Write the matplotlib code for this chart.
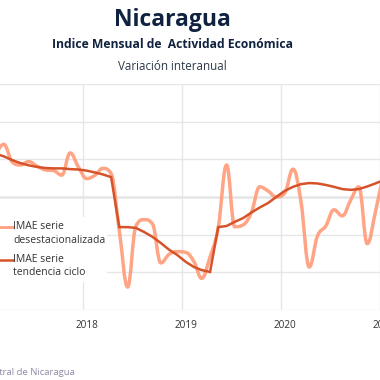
import datetime as dt
import numpy as np
import matplotlib
matplotlib.use("Agg")
import matplotlib.pyplot as plt
import matplotlib.dates as mdates
from matplotlib.path import Path
from matplotlib.patches import PathPatch, Rectangle
from matplotlib.lines import Line2D

# ---------------- data ----------------
months = [dt.date(2017 + (i // 12), i % 12 + 1, 15) for i in range(49)]  # Jan 2017 .. Jan 2021

desestacionalizada = [
    5.5, 6.0, 7.0, 4.65, 4.25, 4.7, 4.1, 3.6, 3.5, 2.9, 5.85, 4.0,          # 2017
    2.45, 2.9, 3.8, 3.1, -4.4, -11.95, -3.9, -3.0, -3.6, -8.75, -7.6, -7.25, # 2018
    -7.35, -8.6, -10.8, -7.95, -4.1, 4.25, -3.95, -3.7, -2.0, 1.35, 0.8, 0.0, # 2019
    0.5, 3.7, -0.5, -9.3, -5.2, -3.85, -1.7, -2.5, -0.4, 1.35, -6.2, -2.0,   # 2020
    3.3,                                                                      # 2021
]
tendencia = [
    5.85, 5.7, 5.4, 4.9, 4.5, 4.2, 4.0, 3.85, 3.8, 3.8, 3.7, 3.65,
    3.5, 3.25, 3.0, 2.65, -4.0, -4.0, -4.1, -4.65, -5.3, -6.1, -7.0, -7.7,
    -8.6, -9.3, -9.7, -9.95, -4.0, -3.85, -3.3, -2.8, -2.05, -1.4, -0.8, 0.0,
    0.8, 1.35, 1.7, 1.85, 1.8, 1.6, 1.35, 1.05, 0.95, 1.05, 1.4, 1.8,
    2.25,
]
year_ticks = [2018, 2019, 2020, 2021]
y_ticks = [-15, -10, -5, 0, 5, 10, 15]

title = "Nicaragua"
subtitle = "Indice Mensual de  Actividad Económica"
subsubtitle = "Variación interanual"
legend_labels = ["IMAE serie\ndesestacionalizada", "IMAE serie\ntendencia ciclo"]
source = "Fuente: Banco Central de Nicaragua"

LIGHT = "#ffa07f"
DARK = "#d6532a"
FONT = ["Open Sans", "DejaVu Sans"]

# ---------------- helpers ----------------
def spline_path(xs, ys, smoothing=1.5):
    """Highcharts-like spline drawn as cubic Bezier segments."""
    n = len(xs)
    denom = smoothing + 1
    lc = [None] * n
    rc = [None] * n
    for i in range(n):
        x, y = xs[i], ys[i]
        if 0 < i < n - 1:
            lx, ly = xs[i - 1], ys[i - 1]
            nx, ny = xs[i + 1], ys[i + 1]
            lcx = (smoothing * x + lx) / denom
            lcy = (smoothing * y + ly) / denom
            rcx = (smoothing * x + nx) / denom
            rcy = (smoothing * y + ny) / denom
            if rcx != lcx:
                corr = (rcy - lcy) * (rcx - x) / (rcx - lcx) + y - rcy
                lcy += corr
                rcy += corr
            if lcy > max(ly, y):
                lcy = max(ly, y); rcy = 2 * y - lcy
            elif lcy < min(ly, y):
                lcy = min(ly, y); rcy = 2 * y - lcy
            if rcy > max(ny, y):
                rcy = max(ny, y); lcy = 2 * y - rcy
            elif rcy < min(ny, y):
                rcy = min(ny, y); lcy = 2 * y - rcy
            lc[i] = (lcx, lcy)
            rc[i] = (rcx, rcy)
        else:
            lc[i] = (x, y)
            rc[i] = (x, y)
    verts = [(xs[0], ys[0])]
    codes = [Path.MOVETO]
    for i in range(1, n):
        verts += [rc[i - 1], lc[i], (xs[i], ys[i])]
        codes += [Path.CURVE4] * 3
    return Path(verts, codes)

# ---------------- figure ----------------
W = H = 380
fig = plt.figure(figsize=(3.8, 3.8), dpi=100)
fig.patch.set_facecolor("white")

x_left_px, x_right_px = -16.0, 392.2
y_top_px, y_bot_px = 84.0, 310.0
ax = fig.add_axes([x_left_px / W, 1 - y_bot_px / H,
                   (x_right_px - x_left_px) / W, (y_bot_px - y_top_px) / H])
ax.set_xlim(mdates.date2num(dt.date(2017, 1, 1)), mdates.date2num(dt.date(2021, 2, 15)))
ax.set_ylim(y_ticks[0], y_ticks[-1])

for s in ax.spines.values():
    s.set_visible(False)

ax.set_yticks(y_ticks)
ax.tick_params(axis="y", length=0, labelleft=False)
grid_x = [mdates.date2num(dt.date(y, 1, 1)) for y in year_ticks]
ax.set_xticks(grid_x)
ax.set_xticklabels([])
ax.set_xticks([mdates.date2num(dt.date(y, 1, 15)) for y in year_ticks], minor=True)
ax.set_xticklabels([str(y) for y in year_ticks], minor=True, fontsize=7.2,
                   color="#333333", family=FONT)
ax.tick_params(axis="x", which="both", length=0, pad=7)
ax.grid(True, color="#e6e6e6", linewidth=1)
ax.axhline(0, color="#999999", linewidth=1, zorder=1.5)

xs = mdates.date2num(months)
p = spline_path(list(xs), list(desestacionalizada))
ax.add_patch(PathPatch(p, facecolor="none", edgecolor=LIGHT, linewidth=2.5,
                       alpha=0.95, zorder=3, capstyle="round", joinstyle="round"))
ax.plot(xs, tendencia, color=DARK, linewidth=1.8, zorder=4, solid_joinstyle="miter")

# legend (white box hides gridlines)
fig.patches.append(Rectangle((0, 1 - 282 / H), 107 / W, 65 / H, transform=fig.transFigure,
                             facecolor="white", edgecolor="none", zorder=2.5))
ax.set_zorder(1)
for lab, yc, col, lw in [(legend_labels[0], 226.7, LIGHT, 2.0), (legend_labels[1], 259.5, DARK, 1.8)]:
    fig.lines.append(Line2D([0, 12.5 / W], [1 - yc / H, 1 - yc / H], transform=fig.transFigure,
                            color=col, linewidth=lw, zorder=5))
    fig.text(13 / W, 1 - (yc - 6.0) / H, lab, ha="left", va="top", fontsize=7.45,
             color="#333333", family=FONT, linespacing=1.36, zorder=5)

# titles
fig.text(172 / W, 1 - 20.5 / H, title, ha="center", va="center", fontsize=16.5,
         fontweight="bold", color="#10223f", family=FONT)
fig.text(172 / W, 1 - 44.5 / H, subtitle, ha="center", va="center", fontsize=8.7,
         fontweight="bold", color="#10223f", family=FONT)
fig.text(172 / W, 1 - 67 / H, subsubtitle, ha="center", va="center", fontsize=8.4,
         color="#2e3a4a", family=FONT)
fig.text(75 / W, 1 - 372.5 / H, source, ha="right", va="center", fontsize=6.8,
         color="#8f8aa6", family=FONT)

fig.savefig("out.png", dpi=100, facecolor="white")
